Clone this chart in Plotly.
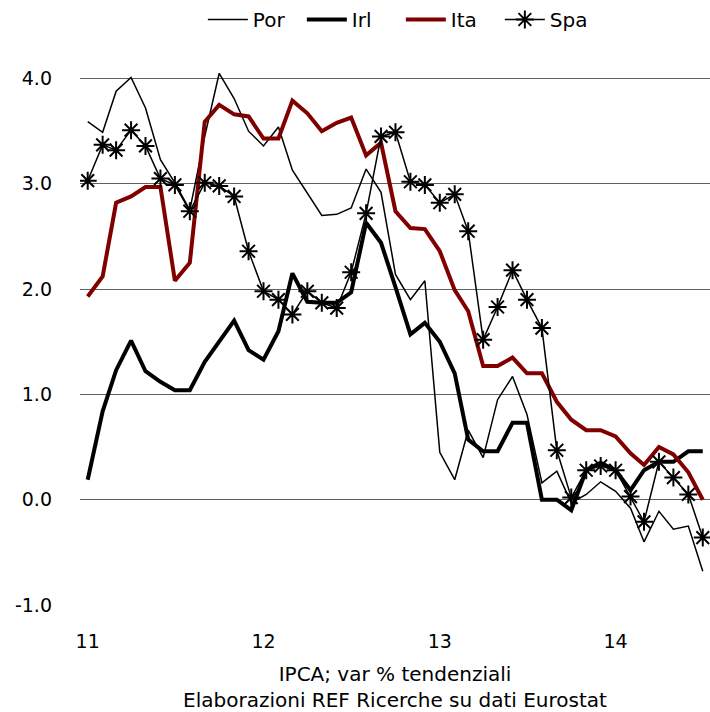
import plotly.graph_objects as go
import pandas as pd

# mesi: gen 2011 - lug 2014
mesi = pd.date_range("2011-01-01", periods=43, freq="MS")

por = [3.59, 3.49, 3.88, 4.01, 3.72, 3.23, 3.01, 2.75, 3.45, 4.05, 3.81, 3.50,
       3.36, 3.54, 3.13, 2.91, 2.70, 2.71, 2.77, 3.14, 2.92, 2.14, 1.90, 2.08,
       0.45, 0.19, 0.66, 0.40, 0.95, 1.17, 0.81, 0.16, 0.27, -0.03, 0.05, 0.17,
       0.08, -0.08, -0.40, -0.11, -0.28, -0.25, -0.68]
irl = [0.19, 0.84, 1.23, 1.51, 1.22, 1.12, 1.04, 1.04, 1.31, 1.50, 1.70, 1.42,
       1.33, 1.60, 2.15, 1.88, 1.87, 1.87, 1.97, 2.63, 2.44, 2.02, 1.57, 1.68,
       1.50, 1.20, 0.57, 0.46, 0.46, 0.73, 0.73, 0.00, 0.00, -0.10, 0.28, 0.35,
       0.28, 0.09, 0.28, 0.36, 0.36, 0.46, 0.46]
ita = [1.93, 2.12, 2.82, 2.88, 2.97, 2.97, 2.08, 2.25, 3.59, 3.75, 3.66, 3.64,
       3.43, 3.43, 3.79, 3.67, 3.50, 3.58, 3.63, 3.27, 3.39, 2.74, 2.58, 2.57,
       2.36, 1.99, 1.79, 1.27, 1.27, 1.35, 1.20, 1.20, 0.93, 0.76, 0.66, 0.66,
       0.60, 0.44, 0.33, 0.50, 0.43, 0.26, 0.00]
spa = [3.03, 3.37, 3.32, 3.51, 3.36, 3.05, 2.99, 2.74, 3.01, 2.98, 2.88, 2.36,
       1.98, 1.90, 1.76, 1.98, 1.87, 1.82, 2.16, 2.72, 3.45, 3.49, 3.02, 2.99,
       2.82, 2.90, 2.55, 1.52, 1.83, 2.18, 1.90, 1.63, 0.47, 0.02, 0.28, 0.32,
       0.28, 0.03, -0.21, 0.36, 0.21, 0.05, -0.36]

anni = ["11", "12", "13", "14"]
y_ticks = [-1, 0, 1, 2, 3, 4]
y_labels = ["-1.0", "0.0", "1.0", "2.0", "3.0", "4.0"]

font = "DejaVu Sans"

fig = go.Figure()
fig.add_trace(go.Scatter(x=mesi, y=por, name="Por", mode="lines",
                         line=dict(color="black", width=1.5)))
fig.add_trace(go.Scatter(x=mesi, y=irl, name="Irl", mode="lines",
                         line=dict(color="black", width=4)))
fig.add_trace(go.Scatter(x=mesi, y=ita, name="Ita", mode="lines",
                         line=dict(color="#800000", width=4)))
fig.add_trace(go.Scatter(x=mesi, y=spa, name="Spa", mode="lines+markers",
                         line=dict(color="black", width=1.5),
                         marker=dict(symbol="asterisk-open", size=15,
                                     color="black", line=dict(color="black", width=2))))

# tacche annuali a gennaio
gennai = [pd.Timestamp(f"20{a}-01-01") for a in anni]

fig.update_layout(
    width=710, height=712,
    margin=dict(l=80, r=0, t=40, b=107),
    paper_bgcolor="white", plot_bgcolor="white",
    font=dict(family=font, size=19, color="black"),
    showlegend=True,
    hovermode=False,
    legend=dict(orientation="h", xref="paper", x=0.195, xanchor="left",
                yref="container", y=1.0, yanchor="top",
                font=dict(size=20), itemwidth=40, tracegroupgap=0,
                entrywidth=44),
    xaxis=dict(
        range=["2010-12-16", "2014-07-16"],
        tickvals=gennai, ticktext=anni,
        showgrid=False, zeroline=False, showline=False, automargin=False,
        ticks="", ticklabelstandoff=23,
        title=dict(text="IPCA; var % tendenziali<br>Elaborazioni REF Ricerche su dati Eurostat",
                   font=dict(size=20), standoff=15),
    ),
    yaxis=dict(
        range=[-1, 4.366],
        tickvals=y_ticks, ticktext=y_labels,
        showgrid=True, gridcolor="#606060", gridwidth=1, automargin=False,
        zeroline=False, showline=False, ticks="", ticklabelstandoff=27,
    ),
)

# niente margine del body, cosi' il grafico parte da (0, 0)
fig.write_html("out.html", config={"displayModeBar": False},
               post_script="document.body.style.margin='0';")
